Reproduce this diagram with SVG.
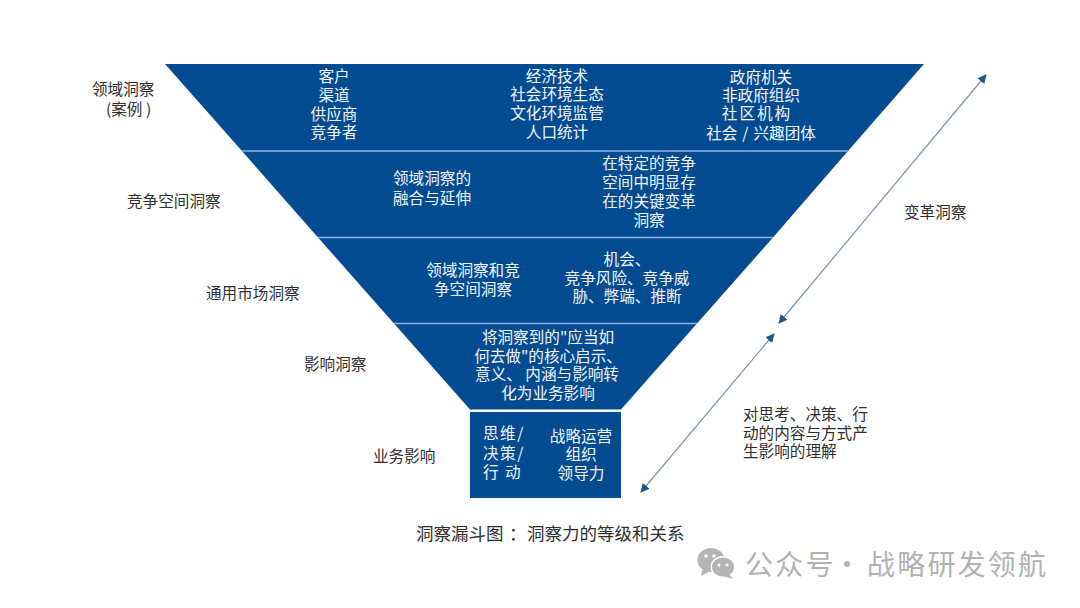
<svg xmlns="http://www.w3.org/2000/svg" width="1080" height="608" viewBox="0 0 1080 608">
<style>
text{font-family:"Noto Sans CJK SC","Liberation Sans",sans-serif;font-size:15.6px}
.w{fill:#f2f5f9;text-anchor:middle}
.l{fill:#2f2f2f}
.band{fill:#044c92}
.div{stroke:#8fb6e3;stroke-width:1.5}
.arr{stroke:#7e92a8;stroke-width:1.2;fill:none;marker-start:url(#ah);marker-end:url(#ah)}
.wm{fill:#b2b2b2;font-size:28px;letter-spacing:2.200px}
.cap{fill:#2f2f2f;font-size:17.500px}
.ic{fill:#b5b5b5}
</style>
<defs>
<marker id="ah" viewBox="0 0 10 10" refX="9" refY="5" markerWidth="9" markerHeight="9" markerUnits="userSpaceOnUse" orient="auto-start-reverse"><path d="M0 0L10 5L0 10Z" fill="#1f5688"/></marker>
</defs>
<rect width="1080" height="608" fill="#fff"/>
<g id="band-domain">
<polygon class="band" points="165,64 924,64 848,151 242,151"/>
<text class="w"><tspan x="334" y="81.500">客户</tspan><tspan x="334" y="100.500">渠道</tspan><tspan x="334" y="119.500">供应商</tspan><tspan x="334" y="138">竞争者</tspan></text>
<text class="w"><tspan x="557" y="81.500">经济技术</tspan><tspan x="557" y="100">社会环境生态</tspan><tspan x="557" y="119">文化环境监管</tspan><tspan x="557" y="137.500">人口统计</tspan></text>
<text class="w"><tspan x="761" y="82.500">政府机关</tspan><tspan x="761" y="101">非政府组织</tspan><tspan x="757" y="119" letter-spacing="2">社区机构</tspan><tspan x="761" y="138.500" word-spacing="1.500">社会 / 兴趣团体</tspan></text>
</g>
<g id="band-competitive">
<polygon class="band" points="242,151 848,151 773,237.500 318,237.500"/>
<text class="w"><tspan x="432" y="184">领域洞察的</tspan><tspan x="432" y="203.500">融合与延伸</tspan></text>
<text class="w"><tspan x="649" y="168.500">在特定的竞争</tspan><tspan x="649" y="187.500">空间中明显存</tspan><tspan x="649" y="206.500">在的关键变革</tspan><tspan x="649" y="225.500">洞察</tspan></text>
</g>
<g id="band-market">
<polygon class="band" points="318,237.500 773,237.500 697,323.500 394,323.500"/>
<text class="w"><tspan x="473" y="275.500">领域洞察和竞</tspan><tspan x="473" y="294.500">争空间洞察</tspan></text>
<text class="w"><tspan x="627" y="265">机会、</tspan><tspan x="627" y="283.500">竞争风险、竞争威</tspan><tspan x="627" y="301.500">胁、弊端、推断</tspan></text>
</g>
<g id="band-impact">
<polygon class="band" points="394,323.500 697,323.500 621,409.500 470,409.500"/>
<text class="w"><tspan x="548" y="342.500">将洞察到的"应当如</tspan><tspan x="548" y="361.500">何去做"的核心启示、</tspan><tspan x="547" y="380">意义、 内涵与影响转</tspan><tspan x="548" y="398.500">化为业务影响</tspan></text>
</g>
<g id="box-business">
<rect class="band" x="470" y="412" width="151" height="86"/>
<text class="w" style="text-anchor:start" letter-spacing="1.500"><tspan x="483" y="438.500">思维/</tspan><tspan x="483" y="458.500">决策/</tspan><tspan x="483" y="477.500">行 动</tspan></text>
<text class="w"><tspan x="581" y="441.500">战略运营</tspan><tspan x="581" y="459.500">组织</tspan><tspan x="581" y="478.500">领导力</tspan></text>
</g>
<g id="dividers">
<line class="div" x1="242" y1="151" x2="848" y2="151"/>
<line class="div" x1="318" y1="237.500" x2="773" y2="237.500"/>
<line class="div" x1="394" y1="323.500" x2="697" y2="323.500"/>
</g>
<g id="connectors">
<line class="arr" x1="779" y1="323" x2="986" y2="75"/>
<line class="arr" x1="641" y1="492" x2="774" y2="334"/>
</g>
<g id="labels">
<text class="l"><tspan x="92" y="95">领域洞察</tspan><tspan x="106" y="115">(案例 )</tspan></text>
<text class="l" x="127" y="207">竞争空间洞察</text>
<text class="l" x="206" y="299">通用市场洞察</text>
<text class="l" x="304" y="370">影响洞察</text>
<text class="l" x="373" y="461.500">业务影响</text>
<text class="l" x="904" y="218">变革洞察</text>
<text class="l"><tspan x="743" y="420">对思考、决策、行</tspan><tspan x="743" y="439">动的内容与方式产</tspan><tspan x="743" y="457">生影响的理解</tspan></text>
<text class="cap" y="539.500"><tspan x="416">洞察漏斗图</tspan><tspan x="509">：</tspan><tspan x="527">洞察力的等级和关系</tspan></text>
</g>
<g id="watermark">
<ellipse class="ic" cx="711" cy="560" rx="13.500" ry="12"/>
<path class="ic" d="M703 568L701 576L710 571Z"/>
<ellipse cx="723" cy="567" rx="12.500" ry="11" fill="#fff"/>
<ellipse class="ic" cx="723" cy="567" rx="11" ry="9.500"/>
<path class="ic" d="M729 574L733 579L723 576Z"/>
<circle cx="706" cy="556" r="1.800" fill="#fff"/><circle cx="714" cy="556" r="1.800" fill="#fff"/>
<circle cx="719" cy="565" r="1.500" fill="#fff"/><circle cx="727" cy="565" r="1.500" fill="#fff"/>
<text class="wm" y="575"><tspan x="745">公众号</tspan><tspan x="833">·</tspan><tspan x="867">战略研发领航</tspan></text>
</g>
</svg>
